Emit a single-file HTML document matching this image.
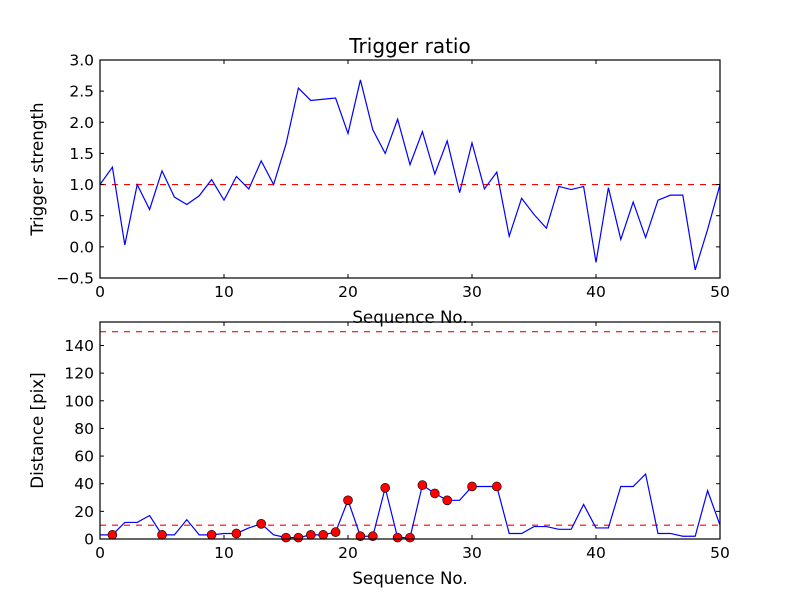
<!DOCTYPE html>
<html><head><meta charset="utf-8"><style>
body{margin:0;background:#fff;}
svg text{font-family:"DejaVu Sans","Liberation Sans",sans-serif;fill:#000;}
</style></head><body>
<svg id="c" width="800" height="600" viewBox="0 0 800 600" xmlns="http://www.w3.org/2000/svg"></svg>
<script>
const topValues=[1.0,1.28,0.03,1.0,0.6,1.22,0.8,0.68,0.82,1.08,0.75,1.13,0.93,1.38,1.0,1.65,2.55,2.35,2.37,2.39,1.82,2.68,1.88,1.5,2.05,1.32,1.85,1.17,1.7,0.87,1.67,0.93,1.2,0.17,0.78,0.52,0.3,0.97,0.92,0.97,-0.25,0.95,0.12,0.72,0.15,0.75,0.83,0.83,-0.37,0.28,1.0];
const bottomValues=[3,3,12,12,17,3,3,14,3,3,4,4,8,11,3,1,1,3,3,5,28,2,2,37,1,1,39,33,28,28,38,38,38,4,4,9,9,7,7,25,8,8,38,38,47,4,4,2,2,35,10];
const markerIdx=[1,5,9,11,13,15,16,17,18,19,20,21,22,23,24,25,26,27,28,30,32];
const topTicks=[-0.5,0,0.5,1,1.5,2,2.5,3];
const bottomTicks=[0,20,40,60,80,100,120,140];
const xTicks=[0,10,20,30,40,50];
const topThreshold=1.0, bottomThresholds=[10,150];

const NS="http://www.w3.org/2000/svg", svg=document.getElementById('c');
function el(t,a,p){const e=document.createElementNS(NS,t);for(const k in a)e.setAttribute(k,a[k]);(p||svg).appendChild(e);return e;}
const X0=100,X1=720;
const sx=v=>X0+(v-0)/(50-0)*(X1-X0);
function panel(name,T,B,ymin,ymax,vals,ticks,fmt,thresholds,ylabel,title,markers){
  const sy=v=>B-(v-ymin)/(ymax-ymin)*(B-T);
  const g=el('g',{});
  
  
  const clip=el('clipPath',{id:name+'-clip'},g);el('rect',{x:X0,y:T,width:X1-X0,height:B-T},clip);
  thresholds.forEach(t=>{const l=el('line',{x1:X0,x2:X1,y1:sy(t),y2:sy(t),stroke:'#f00','stroke-width':1.2,'stroke-dasharray':'6,6'},g);
    
    });
  const pl=el('polyline',{points:vals.map((v,i)=>sx(i)+','+sy(v)).join(' '),fill:'none',stroke:'#00f','stroke-width':1.2,'clip-path':'url(#'+name+'-clip)'},g);
  
  
  if(markers)markers.forEach(i=>{const c=el('circle',{cx:sx(i),cy:sy(vals[i]),r:4.5,fill:'#f00',stroke:'#000','stroke-width':0.6},g);
    
    });
  el('rect',{x:X0,y:T,width:X1-X0,height:B-T,fill:'none',stroke:'#000','stroke-width':1.2},g);
  ticks.forEach(t=>{const y=sy(t);el('line',{x1:X0,x2:X0+4,y1:y,y2:y,stroke:'#000'},g);el('line',{x1:X1,x2:X1-4,y1:y,y2:y,stroke:'#000'},g);
    const tx=el('text',{x:X0-6,y:y+5.5,'text-anchor':'end','font-size':15.5},g);tx.textContent=fmt(t).replace('-','\u2212');
    
    });
  xTicks.forEach(t=>{const x=sx(t);el('line',{x1:x,x2:x,y1:B,y2:B-4,stroke:'#000'},g);el('line',{x1:x,x2:x,y1:T,y2:T+4,stroke:'#000'},g);
    const tx=el('text',{x:x,y:B+19,'text-anchor':'middle','font-size':15.5},g);tx.textContent=t;
    
    });
  const xl=el('text',{x:(X0+X1)/2,y:B+45,'text-anchor':'middle','font-size':16.7},g);xl.textContent='Sequence No.';
  
  
  const yl=el('text',{x:0,y:0,'text-anchor':'middle','font-size':16.7,transform:'translate(43,'+(T+B)/2+') rotate(-90)'},g);yl.textContent=ylabel;
  
  
  if(title){const tt=el('text',{x:(X0+X1)/2,y:T-7,'text-anchor':'middle','font-size':20},g);tt.textContent=title;
    
    }
}
panel('trigger-panel',60,278,-0.5,3.0,topValues,topTicks,v=>v.toFixed(1),[topThreshold],'Trigger strength','Trigger ratio',null);
panel('distance-panel',322,539,0,157,bottomValues,bottomTicks,v=>String(v),bottomThresholds,'Distance [pix]',null,markerIdx);
</script>
</body></html>
